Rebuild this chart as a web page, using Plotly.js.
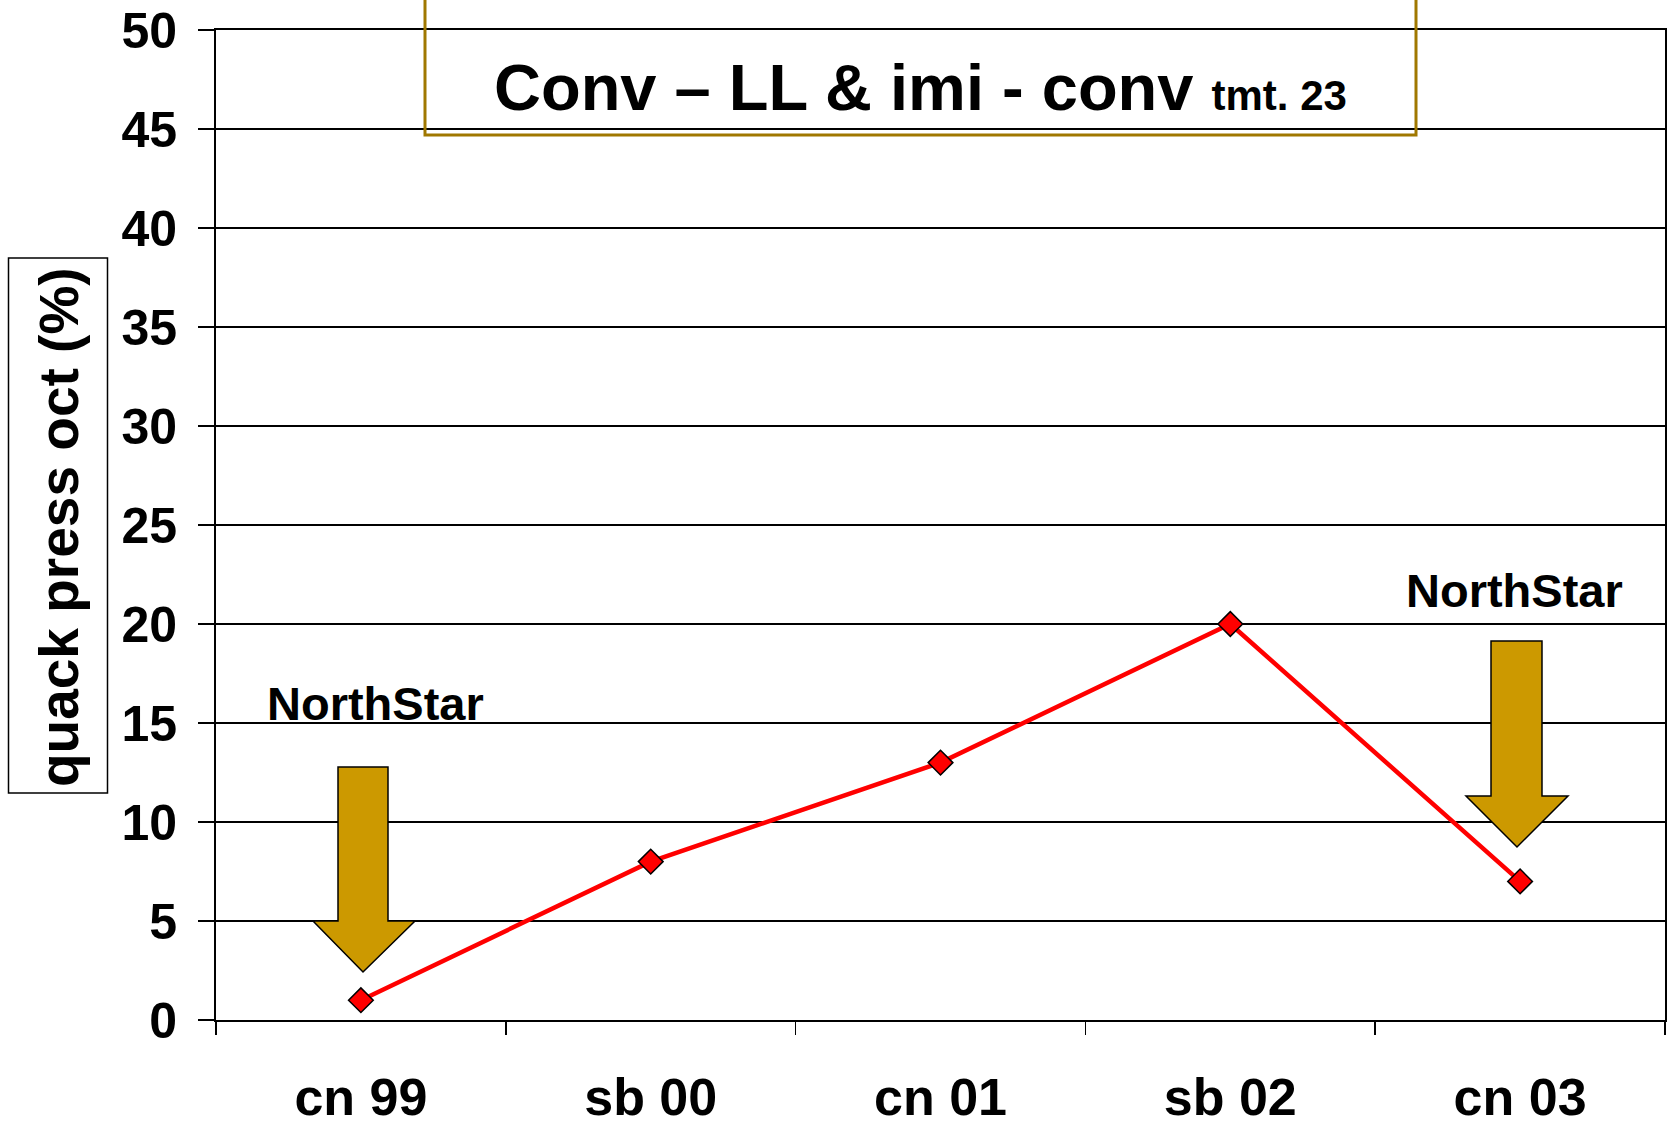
<!DOCTYPE html>
<html>
<head>
<meta charset="utf-8">
<script src="https://cdn.plot.ly/plotly-3.0.1.min.js"></script>
<style>html,body{margin:0;padding:0;background:#fff;}#chart{width:1669px;height:1124px;}</style>
</head>
<body>
<div id="chart"></div>
<script>
// ---- data ----
const categories = ['cn 99', 'sb 00', 'cn 01', 'sb 02', 'cn 03'];
const pressValues = [1, 8, 13, 20, 7];
const yTickValues = [0, 5, 10, 15, 20, 25, 30, 35, 40, 45, 50];
const yTickLabels = ['0', '5', '10', '15', '20', '25', '30', '35', '40', '45', '50'];
const titleMain = 'Conv – LL & imi - conv';
const titleSmall = 'tmt. 23';
const yAxisTitle = 'quack press oct (%)';
const arrowLabel = 'NorthStar';

// ---- layout geometry (pixels) ----
const W = 1669, H = 1124;
const M = {l: 216, r: 4, t: 30, b: 104};
const PW = W - M.l - M.r, PH = H - M.t - M.b;
const px = x => (x - M.l) / PW;
const py = y => (H - M.b - y) / PH;
const FONT = 'Liberation Sans, Arial, Helvetica, sans-serif';

function arrowPath(shaftL, shaftR, top, headY, headL, headR, tipX, tipY) {
  const pts = [[shaftL, top], [shaftR, top], [shaftR, headY], [headR, headY],
               [tipX, tipY], [headL, headY], [shaftL, headY]];
  return 'M' + pts.map(p => px(p[0]).toFixed(5) + ',' + py(p[1]).toFixed(5)).join(' L') + ' Z';
}

const arrowStyle = {type: 'path', xref: 'paper', yref: 'paper', fillcolor: '#CC9900',
                    line: {color: '#000', width: 1.5}, layer: 'above'};

const trace = {
  x: categories,
  y: pressValues,
  type: 'scatter',
  mode: 'lines+markers',
  line: {color: '#FF0000', width: 4.5},
  marker: {symbol: 'diamond', size: 19, color: '#FF0000', line: {color: '#000', width: 1.5}},
  cliponaxis: false,
  hoverinfo: 'skip'
};

const layout = {
  width: W, height: H,
  margin: M,
  paper_bgcolor: '#fff', plot_bgcolor: '#fff',
  showlegend: false,
  font: {family: FONT, color: '#000', weight: 'bold'},
  xaxis: {
    type: 'category',
    range: [-0.5, 4.5],
    showgrid: false,
    showline: true, linecolor: '#000', linewidth: 2, mirror: true,
    ticks: 'outside', ticklen: 13, tickwidth: 1.5, tickcolor: '#000',
    tickson: 'boundaries',
    tickfont: {family: FONT, size: 52, color: '#000', weight: 'bold'},
    ticklabelstandoff: 31,
    ticklabeloverflow: 'allow',
    fixedrange: true, zeroline: false
  },
  yaxis: {
    range: [0, 50],
    tickvals: yTickValues, ticktext: yTickLabels,
    showgrid: true, gridcolor: '#000', gridwidth: 1.5,
    showline: true, linecolor: '#000', linewidth: 2, mirror: true,
    ticks: 'outside', ticklen: 16, tickwidth: 1.5, tickcolor: '#000',
    tickfont: {family: FONT, size: 50, color: '#000', weight: 'bold'},
    ticklabelstandoff: 11,
    ticklabeloverflow: 'allow',
    zeroline: false, fixedrange: true
  },
  shapes: [
    // title box (top cut off by canvas edge)
    {type: 'rect', xref: 'paper', yref: 'paper', x0: px(425), x1: px(1416), y0: py(135), y1: py(-20),
     line: {color: '#A07800', width: 3}, fillcolor: 'rgba(0,0,0,0)', layer: 'above'},
    // y-axis title box
    {type: 'rect', xref: 'paper', yref: 'paper', x0: px(8.5), x1: px(107.5), y0: py(793), y1: py(258),
     line: {color: '#000', width: 1.5}, fillcolor: 'rgba(0,0,0,0)', layer: 'above'},
    Object.assign({path: arrowPath(338, 388, 767, 921, 313, 415, 363, 972)}, arrowStyle),
    Object.assign({path: arrowPath(1491, 1542, 641, 796, 1466, 1568, 1517, 847)}, arrowStyle)
  ],
  annotations: [
    {xref: 'paper', yref: 'paper', x: px(920), y: py(87), xanchor: 'center', yanchor: 'middle',
     showarrow: false,
     text: titleMain + ' <span style="font-size:42px">' + titleSmall + '</span>',
     font: {family: FONT, size: 65, color: '#000', weight: 'bold'}},
    {xref: 'paper', yref: 'paper', x: px(59), y: py(527), xanchor: 'center', yanchor: 'middle',
     showarrow: false, textangle: -90, text: yAxisTitle,
     font: {family: FONT, size: 55, color: '#000', weight: 'bold'}},
    {xref: 'paper', yref: 'paper', x: px(375), y: py(703), xanchor: 'center', yanchor: 'middle',
     showarrow: false, text: arrowLabel,
     font: {family: FONT, size: 47, color: '#000', weight: 'bold'}},
    {xref: 'paper', yref: 'paper', x: px(1514), y: py(590), xanchor: 'center', yanchor: 'middle',
     showarrow: false, text: arrowLabel,
     font: {family: FONT, size: 47, color: '#000', weight: 'bold'}}
  ]
};

Plotly.newPlot('chart', [trace], layout, {displayModeBar: false, staticPlot: true});
</script>
</body>
</html>
